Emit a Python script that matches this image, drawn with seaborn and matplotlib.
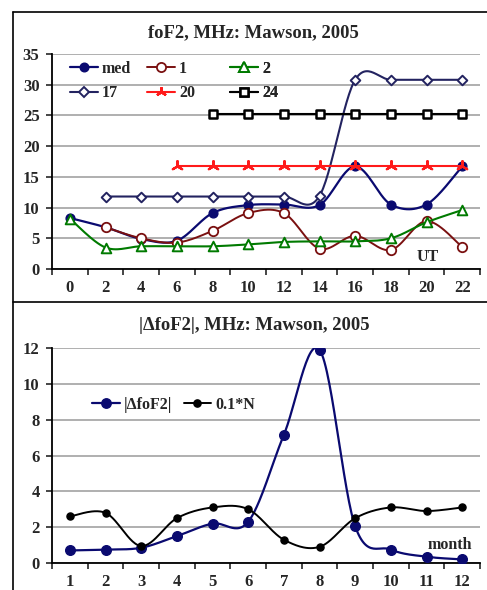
import numpy as np
import pandas as pd
import matplotlib
matplotlib.use("Agg")
import matplotlib.pyplot as plt
from matplotlib.lines import Line2D
import seaborn as sns

# ---------------- data ----------------
ut_labels = ["0", "2", "4", "6", "8", "10", "12", "14", "16", "18", "20", "22"]
fof2_med = [8.3, 6.8, 4.9, 4.6, 9.1, 10.4, 10.5, 10.4, 16.7, 10.5, 10.5, 16.7]
fof2_d1 = [None, 6.8, 5.0, 4.3, 6.2, 9.1, 9.1, 3.3, 5.4, 3.1, 7.8, 3.6]
fof2_d2 = [8.2, 3.5, 3.7, 3.7, 3.7, 4.0, 4.4, 4.5, 4.5, 5.0, 7.6, 9.6]
fof2_d17 = [None, 11.8, 11.8, 11.8, 11.8, 11.8, 11.8, 11.9, 30.8, 30.8, 30.8, 30.8]
fof2_d20 = [None, None, None, 16.7, 16.7, 16.7, 16.7, 16.7, 16.7, 16.7, 16.7, 16.7]
fof2_d24 = [None, None, None, None, 25.3, 25.3, 25.3, 25.3, 25.3, 25.3, 25.3, 25.3]

month_labels = ["1", "2", "3", "4", "5", "6", "7", "8", "9", "10", "11", "12"]
dfof2 = [0.7, 0.75, 0.85, 1.5, 2.2, 2.3, 7.15, 11.9, 2.05, 0.75, 0.35, 0.2]
n_tenth = [2.6, 2.8, 0.95, 2.5, 3.1, 3.0, 1.3, 0.9, 2.5, 3.1, 2.9, 3.1]

# ---------------- style ----------------
sns.set_style("ticks")
plt.rcParams["font.family"] = ["Liberation Serif", "DejaVu Serif"]
plt.rcParams["font.weight"] = "bold"
plt.rcParams["axes.labelweight"] = "bold"

NAVY = "#0a0a70"
MAROON = "#7a1010"
GREEN = "#007a00"
DPURPLE = "#232360"
RED = "#ff1a1a"
BLACK = "#000000"
GRID = "#9a9a9a"

W, H = 487, 590
fig = plt.figure(figsize=(W / 100, H / 100), dpi=100)


def rect(l, t, r, b):
    return [l / W, 1 - b / H, (r - l) / W, (b - t) / H]


ax1 = fig.add_axes(rect(52, 54, 480, 269))
ax2 = fig.add_axes(rect(52, 348, 480, 563))


def style_axes(ax, labels, ymax, ystep):
    n = len(labels)
    ax.set_xlim(-0.5, n - 0.5)
    ax.set_ylim(0, ymax)
    ax.set_yticks(np.arange(0, ymax + 0.01, ystep))
    ax.set_xticks(range(n))
    ax.set_xticklabels(labels)
    ax.set_xticks(np.arange(-0.5, n), minor=True)
    ax.tick_params(axis="x", which="major", length=0, pad=8, labelsize=12)
    ax.tick_params(axis="x", which="minor", length=4, width=1.2, direction="out")
    ax.tick_params(axis="y", which="major", length=4, width=1.2, direction="out",
                   pad=5, labelsize=12)
    ax.yaxis.grid(True, color=GRID, lw=1.1)
    ax.xaxis.grid(False)
    ax.set_axisbelow(True)
    for s in ("top", "right"):
        ax.spines[s].set_visible(False)
    for s in ("left", "bottom"):
        ax.spines[s].set_linewidth(1.3)
        ax.spines[s].set_color(BLACK)
    ax.set_xlabel("")
    ax.set_ylabel("")


style_axes(ax1, ut_labels, 35, 5)
style_axes(ax2, month_labels, 12, 2)


def smooth_curve(ax, xs, ys, steps=30):
    """Bezier smoothing in display space, like office chart 'smoothed line'."""
    P = ax.transData.transform(np.column_stack([xs, ys]).astype(float))
    n = len(P)
    out = [P[0]]
    t = np.linspace(0, 1, steps)[1:, None]
    for i in range(n - 1):
        p0 = P[i - 1] if i > 0 else P[i]
        p1, p2 = P[i], P[i + 1]
        p3 = P[i + 2] if i + 2 < n else P[i + 1]
        c1 = p1 + (p2 - p0) / 6.0
        c2 = p2 - (p3 - p1) / 6.0
        seg = ((1 - t) ** 3) * p1 + 3 * ((1 - t) ** 2) * t * c1 \
            + 3 * (1 - t) * (t ** 2) * c2 + (t ** 3) * p2
        out.extend(seg)
    out = ax.transData.inverted().transform(np.array(out))
    return out[:, 0], out[:, 1]


def draw_series(ax, values, color, marker, size, face, ew, lw, z, smooth=True):
    df = pd.DataFrame({"x": np.arange(len(values)), "y": values}).dropna()
    if smooth:
        cx, cy = smooth_curve(ax, df["x"].values, df["y"].values)
        ax.plot(cx, cy, color=color, lw=lw, zorder=z, solid_capstyle="round")
    else:
        ax.plot(df["x"], df["y"], color=color, lw=lw, zorder=z)
    sns.scatterplot(data=df, x="x", y="y", ax=ax, marker=marker, s=size,
                    color=face, edgecolor=color, linewidth=ew, zorder=z + 0.05,
                    legend=False)


# ---- top panel: foF2 ----
draw_series(ax1, fof2_med, NAVY, "o", 40, NAVY, 1.0, 1.6, 3.0)
draw_series(ax1, fof2_d1, MAROON, "o", 46, "white", 1.3, 1.4, 3.1)
draw_series(ax1, fof2_d2, GREEN, "^", 48, "white", 1.4, 1.5, 3.2)
draw_series(ax1, fof2_d17, DPURPLE, "D", 24, "white", 1.4, 1.5, 3.3)
draw_series(ax1, fof2_d20, RED, (3, 2, 0), 60, RED, 1.6, 1.5, 3.4, smooth=False)
draw_series(ax1, fof2_d24, BLACK, "s", 34, "white", 1.8, 1.5, 3.5, smooth=False)
ax1.set_xlabel("")
ax1.set_ylabel("")

ax1.text(10.04, 1.95, "UT", ha="center", va="center", fontsize=11.5,
         fontweight="bold")


def handle(color, marker, ms, face, ew, lw):
    return Line2D([], [], color=color, lw=lw, marker=marker, markersize=ms,
                  markerfacecolor=face, markeredgecolor=color, markeredgewidth=ew)


top_cols = [
    (70, [(handle(NAVY, "o", 6.2, NAVY, 1.0, 1.6), "med"),
          (handle(DPURPLE, "D", 4.8, "white", 1.4, 1.5), "17")]),
    (147, [(handle(MAROON, "o", 6.6, "white", 1.3, 1.4), "1"),
           (handle(RED, (3, 2, 0), 7.6, RED, 1.6, 1.5), "20")]),
    (230, [(handle(GREEN, "^", 6.8, "white", 1.4, 1.5), "2"),
           (handle(BLACK, "s", 5.8, "white", 1.8, 1.5), "24")]),
]
for xpx, items in top_cols:
    leg = ax1.legend([h for h, _ in items], [l for _, l in items],
                     loc="center left", bbox_to_anchor=(xpx / W, 1 - 81 / H),
                     bbox_transform=fig.transFigure, frameon=False,
                     fontsize=11.5, handlelength=1.75, handletextpad=0.25,
                     borderpad=0, borderaxespad=0, labelspacing=0.55)
    ax1.add_artist(leg)

# ---- bottom panel: |dfoF2| ----
draw_series(ax2, dfof2, NAVY, "o", 48, NAVY, 1.0, 1.6, 3.0)
draw_series(ax2, n_tenth, BLACK, "o", 26, BLACK, 1.0, 1.4, 3.1)
ax2.set_xlabel("")
ax2.set_ylabel("")
ax2.text(10.66, 1.0, "month", ha="center", va="center", fontsize=11.5,
         fontweight="bold")

leg2 = ax2.legend([handle(NAVY, "o", 6.8, NAVY, 1.0, 1.6),
                   handle(BLACK, "o", 5.2, BLACK, 1.0, 1.4)],
                  ["|\u0394foF2|", "0.1*N"], ncol=2, loc="center left",
                  bbox_to_anchor=(92 / W, 1 - 405 / H),
                  bbox_transform=fig.transFigure, frameon=False, fontsize=11.5,
                  handlelength=1.75, handletextpad=0.25, columnspacing=0.7,
                  borderpad=0, borderaxespad=0)

# ---- titles ----
fig.text(253 / W, 1 - 33 / H, "foF2, MHz: Mawson, 2005", ha="center",
         va="center", fontsize=13.4, fontweight="bold")
fig.text(254 / W, 1 - 325 / H, "|\u0394foF2|, MHz: Mawson, 2005", ha="center",
         va="center", fontsize=13.4, fontweight="bold")

# ---- panel frames ----
for (x0, y0, x1, y1) in [(13, 12, 487, 12), (13, 302, 487, 302), (13, 12, 13, 590)]:
    fig.add_artist(Line2D([x0 / W, x1 / W], [1 - y0 / H, 1 - y1 / H],
                          transform=fig.transFigure, color=BLACK, lw=1.2))

fig.savefig("out.png", dpi=100)
